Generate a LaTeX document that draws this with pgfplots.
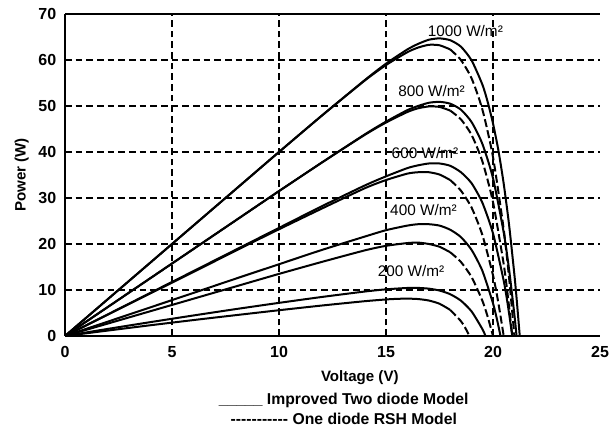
\documentclass[border=0pt]{standalone}
\usepackage{pgfplots}
\pgfplotsset{compat=1.18}
\usepackage{pgfplotstable}
\usepackage{fontspec}
\setmainfont{Liberation Sans}

% 1000 W/m2, improved two diode model (solid)
\pgfplotstableread{
V P
0 0
2 8.0
4 16.0
6 24.0
8 32.0
10 40.0
12 47.9
14 55.6
15 59.2
16 62.3
16.5 63.5
17 64.4
17.5 64.7
18 64.3
18.5 62.9
19 59.9
19.5 54.7
19.75 50.9
20 46.2
20.25 40.4
20.5 33.1
20.75 24.2
21 13.3
21.1 8.3
21.25 0
}\tAs
% 1000 W/m2, one diode RSH model (dashed)
\pgfplotstableread{
V P
0 0
2 8.0
4 16.0
6 24.0
8 32.0
10 40.0
12 47.9
14 55.5
15 58.9
16 61.7
16.5 62.7
17 63.3
17.5 63.2
18 62.3
18.5 60.0
19 56.0
19.5 49.3
20 38.9
20.5 23.2
20.75 12.7
21 0
}\tAd
\pgfplotstableread{
V P
0 0
2 6.3
4 12.6
6 18.9
8 25.2
10 31.5
12 37.7
14 43.8
15 46.6
16 49.1
16.5 50.0
17 50.7
17.5 50.9
18 50.5
18.5 49.2
19 46.5
19.5 41.8
20 34.3
20.5 22.5
20.75 14.5
21 4.6
21.1 0
}\tBs
\pgfplotstableread{
V P
0 0
2 6.3
4 12.6
6 18.9
8 25.2
10 31.5
12 37.7
14 43.7
15 46.4
16 48.7
16.5 49.5
17 49.9
17.5 49.8
18 49.0
18.5 47.1
19 43.7
19.5 38.0
20 29.1
20.5 15.6
20.7 8.4
20.9 0
}\tBd
\pgfplotstableread{
V P
0 0
2 4.7
4 9.4
6 14.1
8 18.8
10 23.5
12 28.2
14 32.7
15 34.7
16 36.5
16.5 37.1
17 37.5
17.5 37.5
18 37.0
18.5 35.6
19 33.2
19.5 29.0
20 22.3
20.5 12.0
20.7 6.5
20.9 0
}\tCs
\pgfplotstableread{
V P
0 0
2 4.64
4 9.28
6 13.9
8 18.6
10 23.2
12 27.7
14 32.1
15 33.9
16 35.3
16.5 35.6
17 35.6
17.5 35.1
18 33.9
18.5 31.6
19 27.9
19.5 22.0
20 13.2
20.25 7.2
20.5 0
}\tCd
\pgfplotstableread{
V P
0 0
2 3.12
4 6.24
6 9.36
8 12.5
10 15.6
12 18.7
14 21.6
15 23.0
16 24.0
16.5 24.3
17 24.3
17.5 24.0
18 23.1
18.5 21.5
19 18.7
19.5 14.2
20 7.1
20.2 3.3
20.35 0
}\tDs
\pgfplotstableread{
V P
0 0
2 2.7
4 5.4
6 8.1
8 10.8
10 13.5
12 16.1
14 18.6
15 19.6
16 20.2
16.5 20.3
17 20.0
17.5 19.4
18 18.2
18.5 16.1
19 12.8
19.5 7.7
19.75 4.2
20 0
}\tDd
\pgfplotstableread{
V P
0 0
2 1.54
4 3.02
6 4.46
8 5.86
10 7.2
12 8.48
14 9.66
15 10.14
16 10.44
16.5 10.45
17 10.29
17.5 9.88
18 9.08
18.5 7.68
19 5.33
19.5 1.53
19.65 0
}\tEs
\pgfplotstableread{
V P
0 0
2 1.18
4 2.34
6 3.46
8 4.54
10 5.6
12 6.62
14 7.56
15 7.94
15.5 8.07
16 8.12
16.5 8.03
17 7.71
17.5 7.01
18 5.67
18.5 3.23
18.7 1.79
18.9 0
}\tEd

\begin{document}
\begin{tikzpicture}
\begin{axis}[
  width=401.25pt, height=241.5pt, scale only axis,
  xmin=0, xmax=25, ymin=0, ymax=70,
  axis x line*=box, axis y line*=left,
  axis line style={-, line width=1.5pt, black},
  clip mode=individual,
  xtick={0,5,...,25}, ytick={0,10,...,70},
  major tick length=0pt,
  extra x ticks={5,10,15,20}, extra x tick labels={},
  extra y ticks={10,20,...,60}, extra y tick labels={},
  extra tick style={grid=major},
  major grid style={black, line width=1pt, dash pattern=on 5pt off 3pt},
  tick label style={font=\bfseries\fontsize{12}{14}\selectfont},
  /pgf/number format/assume math mode=true,
  xticklabel style={yshift=-4pt},
  yticklabel style={xshift=-3pt},
  every axis plot/.append style={black, line width=1.5pt, no markers, smooth, tension=0.4},
]
\addplot[solid] table[x=V,y=P]{\tAs};
\addplot[solid, restrict x to domain=0:18] table[x=V,y=P]{\tAd};
\addplot[dash pattern=on 6pt off 2.5pt, restrict x to domain=18:25] table[x=V,y=P]{\tAd};
\addplot[solid] table[x=V,y=P]{\tBs};
\addplot[solid, restrict x to domain=0:18] table[x=V,y=P]{\tBd};
\addplot[dash pattern=on 6pt off 2.5pt, restrict x to domain=18:25] table[x=V,y=P]{\tBd};
\addplot[solid] table[x=V,y=P]{\tCs};
\addplot[solid, restrict x to domain=0:18] table[x=V,y=P]{\tCd};
\addplot[dash pattern=on 6pt off 2.5pt, restrict x to domain=18:25] table[x=V,y=P]{\tCd};
\addplot[solid] table[x=V,y=P]{\tDs};
\addplot[solid, restrict x to domain=0:18] table[x=V,y=P]{\tDd};
\addplot[dash pattern=on 6pt off 2.5pt, restrict x to domain=18:25] table[x=V,y=P]{\tDd};
\addplot[solid] table[x=V,y=P]{\tEs};
\addplot[solid, restrict x to domain=0:18] table[x=V,y=P]{\tEd};
\addplot[dash pattern=on 6pt off 2.5pt, restrict x to domain=18:25] table[x=V,y=P]{\tEd};

\begin{scope}[every node/.style={font=\fontsize{11.5}{13}\selectfont, inner sep=0pt}]
\node at (axis cs:18.71,66.3) {1000 W/m²};
\node at (axis cs:17.13,53.3) {800 W/m²};
\node at (axis cs:16.82,39.7) {600 W/m²};
\node at (axis cs:16.75,27.4) {400 W/m²};
\node at (axis cs:16.17,14.2) {200 W/m²};
\end{scope}

\node[font=\bfseries\fontsize{11.3}{13}\selectfont] at (rel axis cs:0.551,0) [yshift=-31.5pt] {Voltage (V)};
\node[font=\bfseries\fontsize{11.3}{13}\selectfont, rotate=90, yshift=32.5pt] at (rel axis cs:0,0.5) {Power (W)};
\node[font=\bfseries\fontsize{11.8}{13}\selectfont] at (rel axis cs:0.521,0) [yshift=-48pt] {\_\_\_\_\_ Improved Two diode Model};
\node[font=\bfseries\fontsize{11.8}{13}\selectfont] at (rel axis cs:0.521,0) [yshift=-62pt] {-{}-{}-{}-{}-{}-{}-{}-{}-{}-{}- One diode RSH Model};

\coordinate (bl) at (rel axis cs:0,0);
\coordinate (tr) at (rel axis cs:1,1);
\end{axis}
\pgfresetboundingbox
\path[use as bounding box] ([shift={(-48.75pt,-68.25pt)}]bl) rectangle ([shift={(12pt,10.5pt)}]tr);
\end{tikzpicture}
\end{document}
